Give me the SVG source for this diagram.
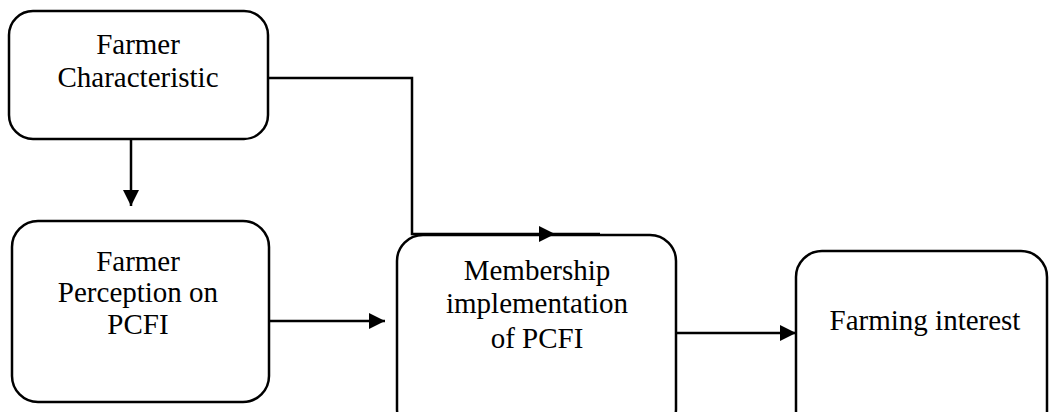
<svg xmlns="http://www.w3.org/2000/svg" width="1049" height="412" viewBox="0 0 1049 412">
<defs>
<style>
.box{fill:#fff;stroke:#000;stroke-width:2.5}
.lbl{font-family:"Liberation Serif","Times New Roman",serif;font-size:29px;fill:#000;text-anchor:middle}
.con{fill:none;stroke:#000;stroke-width:2.5}
</style>
<marker id="ah" viewBox="0 0 10 10" refX="10" refY="5" markerWidth="16" markerHeight="16" markerUnits="userSpaceOnUse" orient="auto">
<path d="M0,0 L10,5 L0,10 Z" fill="#000"/>
</marker>
</defs>
<rect width="1049" height="412" fill="#fff"/>
<g id="n1">
<rect class="box" x="9" y="11" width="259" height="128" rx="24" ry="24"/>
<text class="lbl" x="138" y="54">Farmer</text>
<text class="lbl" x="138" y="87">Characteristic</text>
</g>
<g id="n2">
<rect class="box" x="12" y="221" width="257" height="181" rx="26" ry="26"/>
<text class="lbl" x="138" y="271">Farmer</text>
<text class="lbl" x="138" y="302">Perception on</text>
<text class="lbl" x="138" y="334">PCFI</text>
</g>
<g id="n3">
<rect class="box" x="397" y="235" width="279" height="200" rx="26" ry="26"/>
<text class="lbl" x="537" y="280">Membership</text>
<text class="lbl" x="537" y="313">implementation</text>
<text class="lbl" x="537" y="348">of PCFI</text>
</g>
<g id="n4">
<rect class="box" x="796" y="251" width="251" height="190" rx="26" ry="26"/>
<text class="lbl" x="925" y="330">Farming interest</text>
</g>
<g id="connectors">
<line class="con" x1="131" y1="139" x2="131" y2="206" marker-end="url(#ah)"/>
<path class="con" d="M268,78 H412 V234 H555" marker-end="url(#ah)"/>
<line class="con" x1="555" y1="234" x2="600" y2="234"/>
<line class="con" x1="269" y1="321" x2="385" y2="321" marker-end="url(#ah)"/>
<line class="con" x1="676" y1="333" x2="796" y2="333" marker-end="url(#ah)"/>
</g>
</svg>
